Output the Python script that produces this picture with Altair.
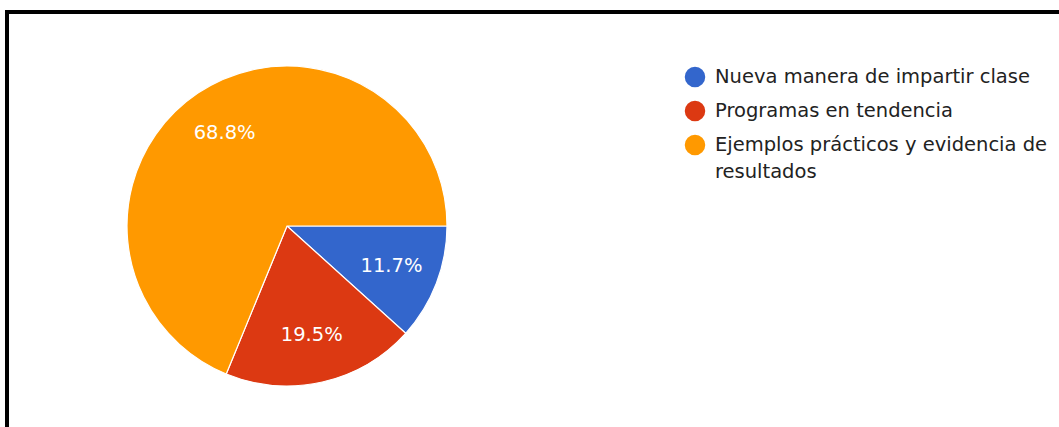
import math
import altair as alt
import pandas as pd

categories = ["Nueva manera de impartir clase", "Programas en tendencia",
              "Ejemplos prácticos y evidencia de resultados"]
legend_lines = [["Nueva manera de impartir clase"], ["Programas en tendencia"],
                ["Ejemplos prácticos y evidencia de", "resultados"]]
values = [11.7, 19.5, 68.8]
labels = ["11.7%", "19.5%", "68.8%"]
colors = ["#3366cc", "#dc3912", "#ff9900"]

df = pd.DataFrame({"cat": categories, "value": values, "label": labels,
                   "lines": legend_lines, "idx": [0, 1, 2]})

PAD_L, PAD_T = 7, 12
CX, CY = 287 - PAD_L, 226 - PAD_T
FONT = "DejaVu Sans"

color = alt.Color("cat:N", scale=alt.Scale(domain=categories, range=colors), legend=None)
theta = alt.Theta("value:Q", stack=True,
                  scale=alt.Scale(range=[math.pi / 2, math.pi / 2 + 2 * math.pi]))

base = alt.Chart(df).encode(theta=theta, order=alt.Order("idx:Q"))

pie = base.mark_arc(outerRadius=160, stroke="white", strokeWidth=1.2).encode(
    x=alt.value(CX), y=alt.value(CY), color=color)

text = base.mark_text(radius=112, fontSize=19.5, color="white", font=FONT).encode(
    x=alt.value(CX), y=alt.value(CY), text="label:N")

# legend built from the same data
leg_y = alt.Y("idx:O", axis=None,
              scale=alt.Scale(type="point", range=[77 - PAD_T, 145 - PAD_T], padding=0))
leg_sym = alt.Chart(df).mark_point(shape="circle", filled=True, size=420, opacity=1).encode(
    x=alt.value(695 - PAD_L), y=leg_y, color=color)
leg_txt = alt.Chart(df).mark_text(align="left", baseline="top", fontSize=19.5, font=FONT,
                                  color="#222222", lineHeight=27, dy=-9).encode(
    x=alt.value(715 - PAD_L), y=leg_y, text="lines")

border = alt.Chart(alt.Data(values=[{}])).mark_rule(color="black", strokeWidth=4).encode(
    x=alt.value(0), y=alt.value(-2), y2=alt.value(440))
border2 = alt.Chart(alt.Data(values=[{}])).mark_rule(color="black", strokeWidth=4).encode(
    x=alt.value(-2), x2=alt.value(1100), y=alt.value(0))

chart = alt.layer(pie, text, leg_sym, leg_txt, border, border2).properties(
    width=1059 - PAD_L, height=427 - PAD_T,
    autosize=alt.AutoSizeParams(type="none"),
    padding={"left": PAD_L, "top": PAD_T, "right": 0, "bottom": 0},
).configure_view(stroke=None).configure(background="white")

chart.save("out.html", embed_options={"renderer": "svg", "actions": False})
